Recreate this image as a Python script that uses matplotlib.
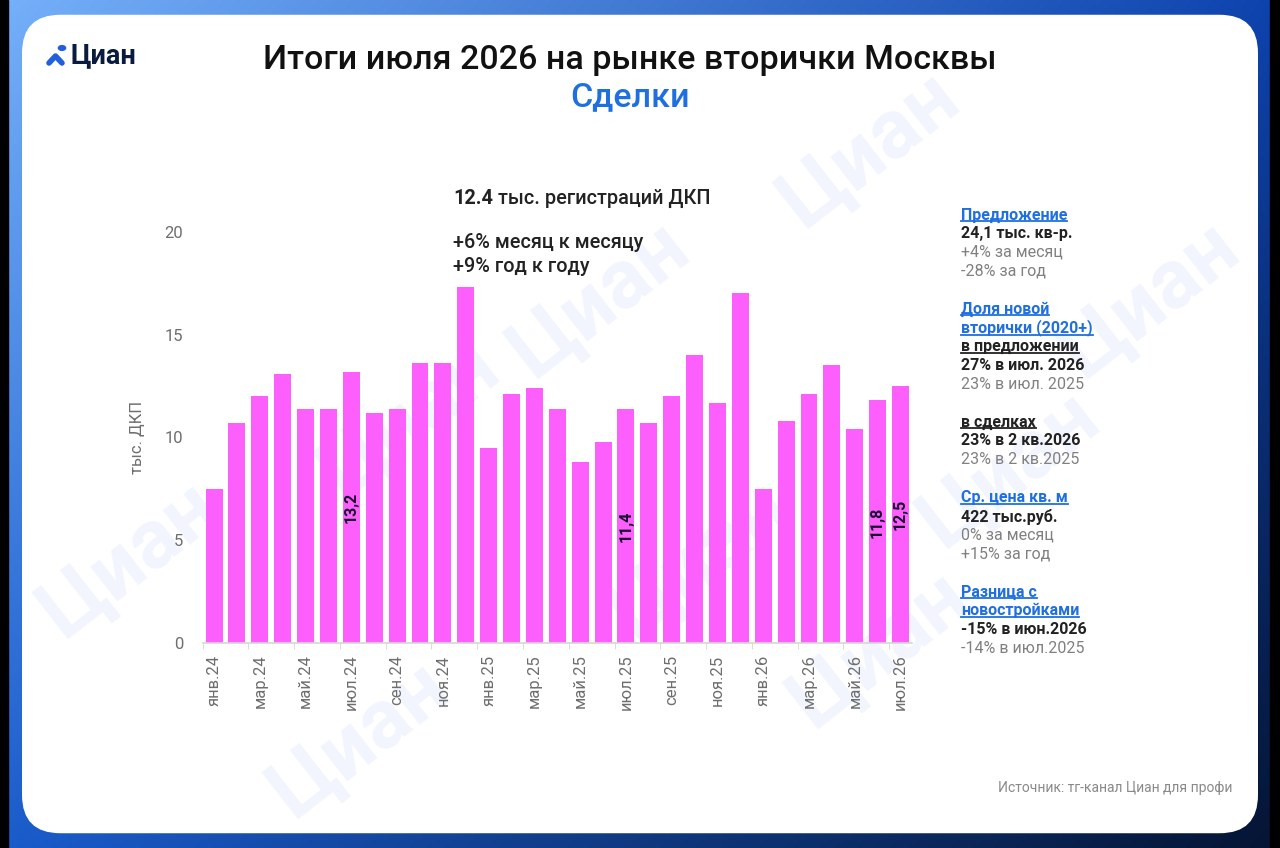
import numpy as np
import matplotlib.pyplot as plt
from matplotlib.patches import FancyBboxPatch, Circle
from matplotlib.lines import Line2D

plt.rcParams['font.family'] = ['Roboto', 'DejaVu Sans']

# данные: регистрации ДКП, тыс.
months = ['янв', 'фев', 'мар', 'апр', 'май', 'июн', 'июл', 'авг', 'сен', 'окт', 'ноя', 'дек']
periods = [m + '.24' for m in months] + [m + '.25' for m in months] + [m + '.26' for m in months[:7]]
deals = [7.5, 10.7, 12.0, 13.1, 11.4, 11.4, 13.2, 11.2, 11.4, 13.6, 13.6, 17.3,
         9.5, 12.1, 12.4, 11.4, 8.8, 9.8, 11.4, 10.7, 12.0, 14.0, 11.7, 17.0,
         7.5, 10.8, 12.1, 13.5, 10.4, 11.8, 12.5]
labelled = ['июл.24', 'июл.25', 'июн.26', 'июл.26']

side_lines = [
    ('Предложение', 'head'), ('24,1 тыс. кв-р.', 'main'), ('+4% за месяц', 'sub'), ('-28% за год', 'sub'), ('', 'gap'),
    ('Доля новой', 'head'), ('вторички (2020+)', 'head'), ('в предложении', 'subhead'),
    ('27% в июл. 2026', 'main'), ('23% в июл. 2025', 'sub'), ('', 'gap'),
    ('в сделках', 'subhead'), ('23% в 2 кв.2026', 'main'), ('23% в 2 кв.2025', 'sub'), ('', 'gap'),
    ('Ср. цена кв. м', 'head'), ('422 тыс.руб.', 'main'), ('0% за месяц', 'sub'), ('+15% за год', 'sub'), ('', 'gap'),
    ('Разница с', 'head'), ('новостройками', 'head'), ('-15% в июн.2026', 'main'), ('-14% в июл.2025', 'sub'),
]

W, H = 1280, 848
BLUE = '#1f6fe0'
DARK = '#222222'
GREY = '#808080'
PINK = '#fc5ffb'


def px(x, y):
    return x / W, 1 - y / H


fig = plt.figure(figsize=(W / 100, H / 100), dpi=100)

# фон с градиентом по углам
bg = fig.add_axes([0, 0, 1, 1], zorder=-10)
yy, xx = np.mgrid[0:1:200j, 0:1:300j]
tl = np.array([0.46, 0.69, 0.98])
tr = np.array([0.05, 0.26, 0.68])
bl = np.array([0.10, 0.36, 0.80])
br = np.array([0.02, 0.08, 0.20])
xx3, yy3 = xx[..., None], yy[..., None]
img = (tl * (1 - xx3) * (1 - yy3) + tr * xx3 * (1 - yy3) + bl * (1 - xx3) * yy3 + br * xx3 * yy3)
bg.imshow(img, extent=[0, 1, 0, 1], aspect='auto', origin='upper')
bg.axvspan(0, 8 / W, color='black')
bg.axvspan(1270 / W, 1, color='black')
card = FancyBboxPatch((22 / W + 0.03, 15 / H + 0.045), (1236 / W) - 0.06, (818 / H) - 0.09,
                      boxstyle='round,pad=0.03', mutation_aspect=W / H,
                      facecolor='white', edgecolor='none')
bg.add_patch(card)
bg.set_xlim(0, 1)
bg.set_ylim(0, 1)
bg.axis('off')

# водяные знаки
for wx, wy in [(870, 150), (1150, 300), (600, 300), (410, 420), (1010, 470),
               (130, 560), (700, 560), (360, 740), (880, 650)]:
    bg.text(wx / W, 1 - wy / H, 'Циан', fontsize=60, fontweight='bold', color='#f2f5fe',
            rotation=38, ha='center', va='center', zorder=1)

# график
ax = fig.add_axes([202.6 / W, 1 - 643.3 / H, (912 - 202.6) / W, (643.3 - 231.7) / H])
x = np.arange(len(deals))
bars = ax.bar(x, deals, width=0.74, color=PINK, zorder=2)
ax.set_xlim(-0.5, len(deals) - 0.5)
ax.set_ylim(0, 20)
ax.patch.set_alpha(0)
for s in ['top', 'right', 'left']:
    ax.spines[s].set_visible(False)
ax.spines['bottom'].set_color('#d6d6d6')
ax.spines['bottom'].set_linewidth(1.2)

ax.set_yticks([0, 5, 10, 15, 20])
ax.tick_params(axis='y', length=0, labelsize=12, labelcolor='#6e6e6e', pad=14)
ax.set_xticks(x[::2])
ax.set_xticklabels(periods[::2], rotation=90)
ax.set_xticks(x[::2] - 0.5, minor=True)
ax.tick_params(axis='x', which='major', length=0, labelsize=12, labelcolor='#6e6e6e', pad=8)
ax.tick_params(axis='x', which='minor', length=4, color='#d6d6d6')
ax.set_ylabel('тыс. ДКП', fontsize=12, color='#6e6e6e', labelpad=14)

for i, p in enumerate(periods):
    if p in labelled:
        ax.text(i, deals[i] / 2, f'{deals[i]:.1f}'.replace('.', ','), rotation=90,
                ha='center', va='center', fontsize=11.5, fontweight='bold', color='#1a1030', zorder=3)

# заголовки
fig.text(*px(630, 60), 'Итоги июля 2026 на рынке вторички Москвы', fontsize=24.5,
         ha='center', va='center', color='#111111', fontweight='medium')
fig.text(*px(630, 97), 'Сделки', fontsize=24.5, ha='center', va='center', color=BLUE, fontweight='medium')

# логотип
fig.text(*px(71, 56), 'Циан', fontsize=19.5, fontweight='bold', color='#0b1b3f', ha='left', va='center')
fig.add_artist(Line2D([49 / W, 55.5 / W, 62 / W], [1 - 63 / H, 1 - 56 / H, 1 - 63 / H],
                      color='#1f5fe0', lw=4, solid_capstyle='round'))
fig.add_artist(Circle(px(62, 48), 3.6 / W, color='#1f5fe0', transform=fig.transFigure))

# аннотация
t1 = fig.text(*px(453, 198), '12.4', fontsize=14.3, fontweight='bold', color=DARK, ha='left', va='center')
fig.canvas.draw()
bb = t1.get_window_extent(fig.canvas.get_renderer())
fig.text(bb.x1 / W, 1 - 198 / H, ' тыс. регистраций ДКП', fontsize=14.3, color=DARK, ha='left', va='center',
         fontweight='medium')
fig.text(*px(453, 243), '+6% месяц к месяцу', fontsize=14.3, color=DARK, ha='left', va='center', fontweight='medium')
fig.text(*px(453, 266), '+9% год к году', fontsize=14.3, color=DARK, ha='left', va='center', fontweight='medium')

# правая панель
styles = {'head': (BLUE, 'bold', True), 'subhead': (DARK, 'bold', True),
          'main': (DARK, 'bold', False), 'sub': (GREY, 'normal', False)}
y = 215
underlined = []
for txt, kind in side_lines:
    if kind == 'gap':
        y += 19.5
        continue
    col, wt, ul = styles[kind]
    tt = fig.text(*px(961, y), txt, fontsize=11.5, color=col, fontweight=wt, ha='left', va='center')
    if ul:
        underlined.append((tt, col))
    y += 18.7

fig.canvas.draw()
r = fig.canvas.get_renderer()
for tt, col in underlined:
    b = tt.get_window_extent(r)
    fig.add_artist(Line2D([b.x0 / W, b.x1 / W], [(b.y0 + 1.5) / H, (b.y0 + 1.5) / H], color=col, lw=1.3))

fig.text(*px(1232, 788), 'Источник: тг-канал Циан для профи', fontsize=10, color='#8a8a8a',
         ha='right', va='center')

fig.savefig('out.png', dpi=100)
